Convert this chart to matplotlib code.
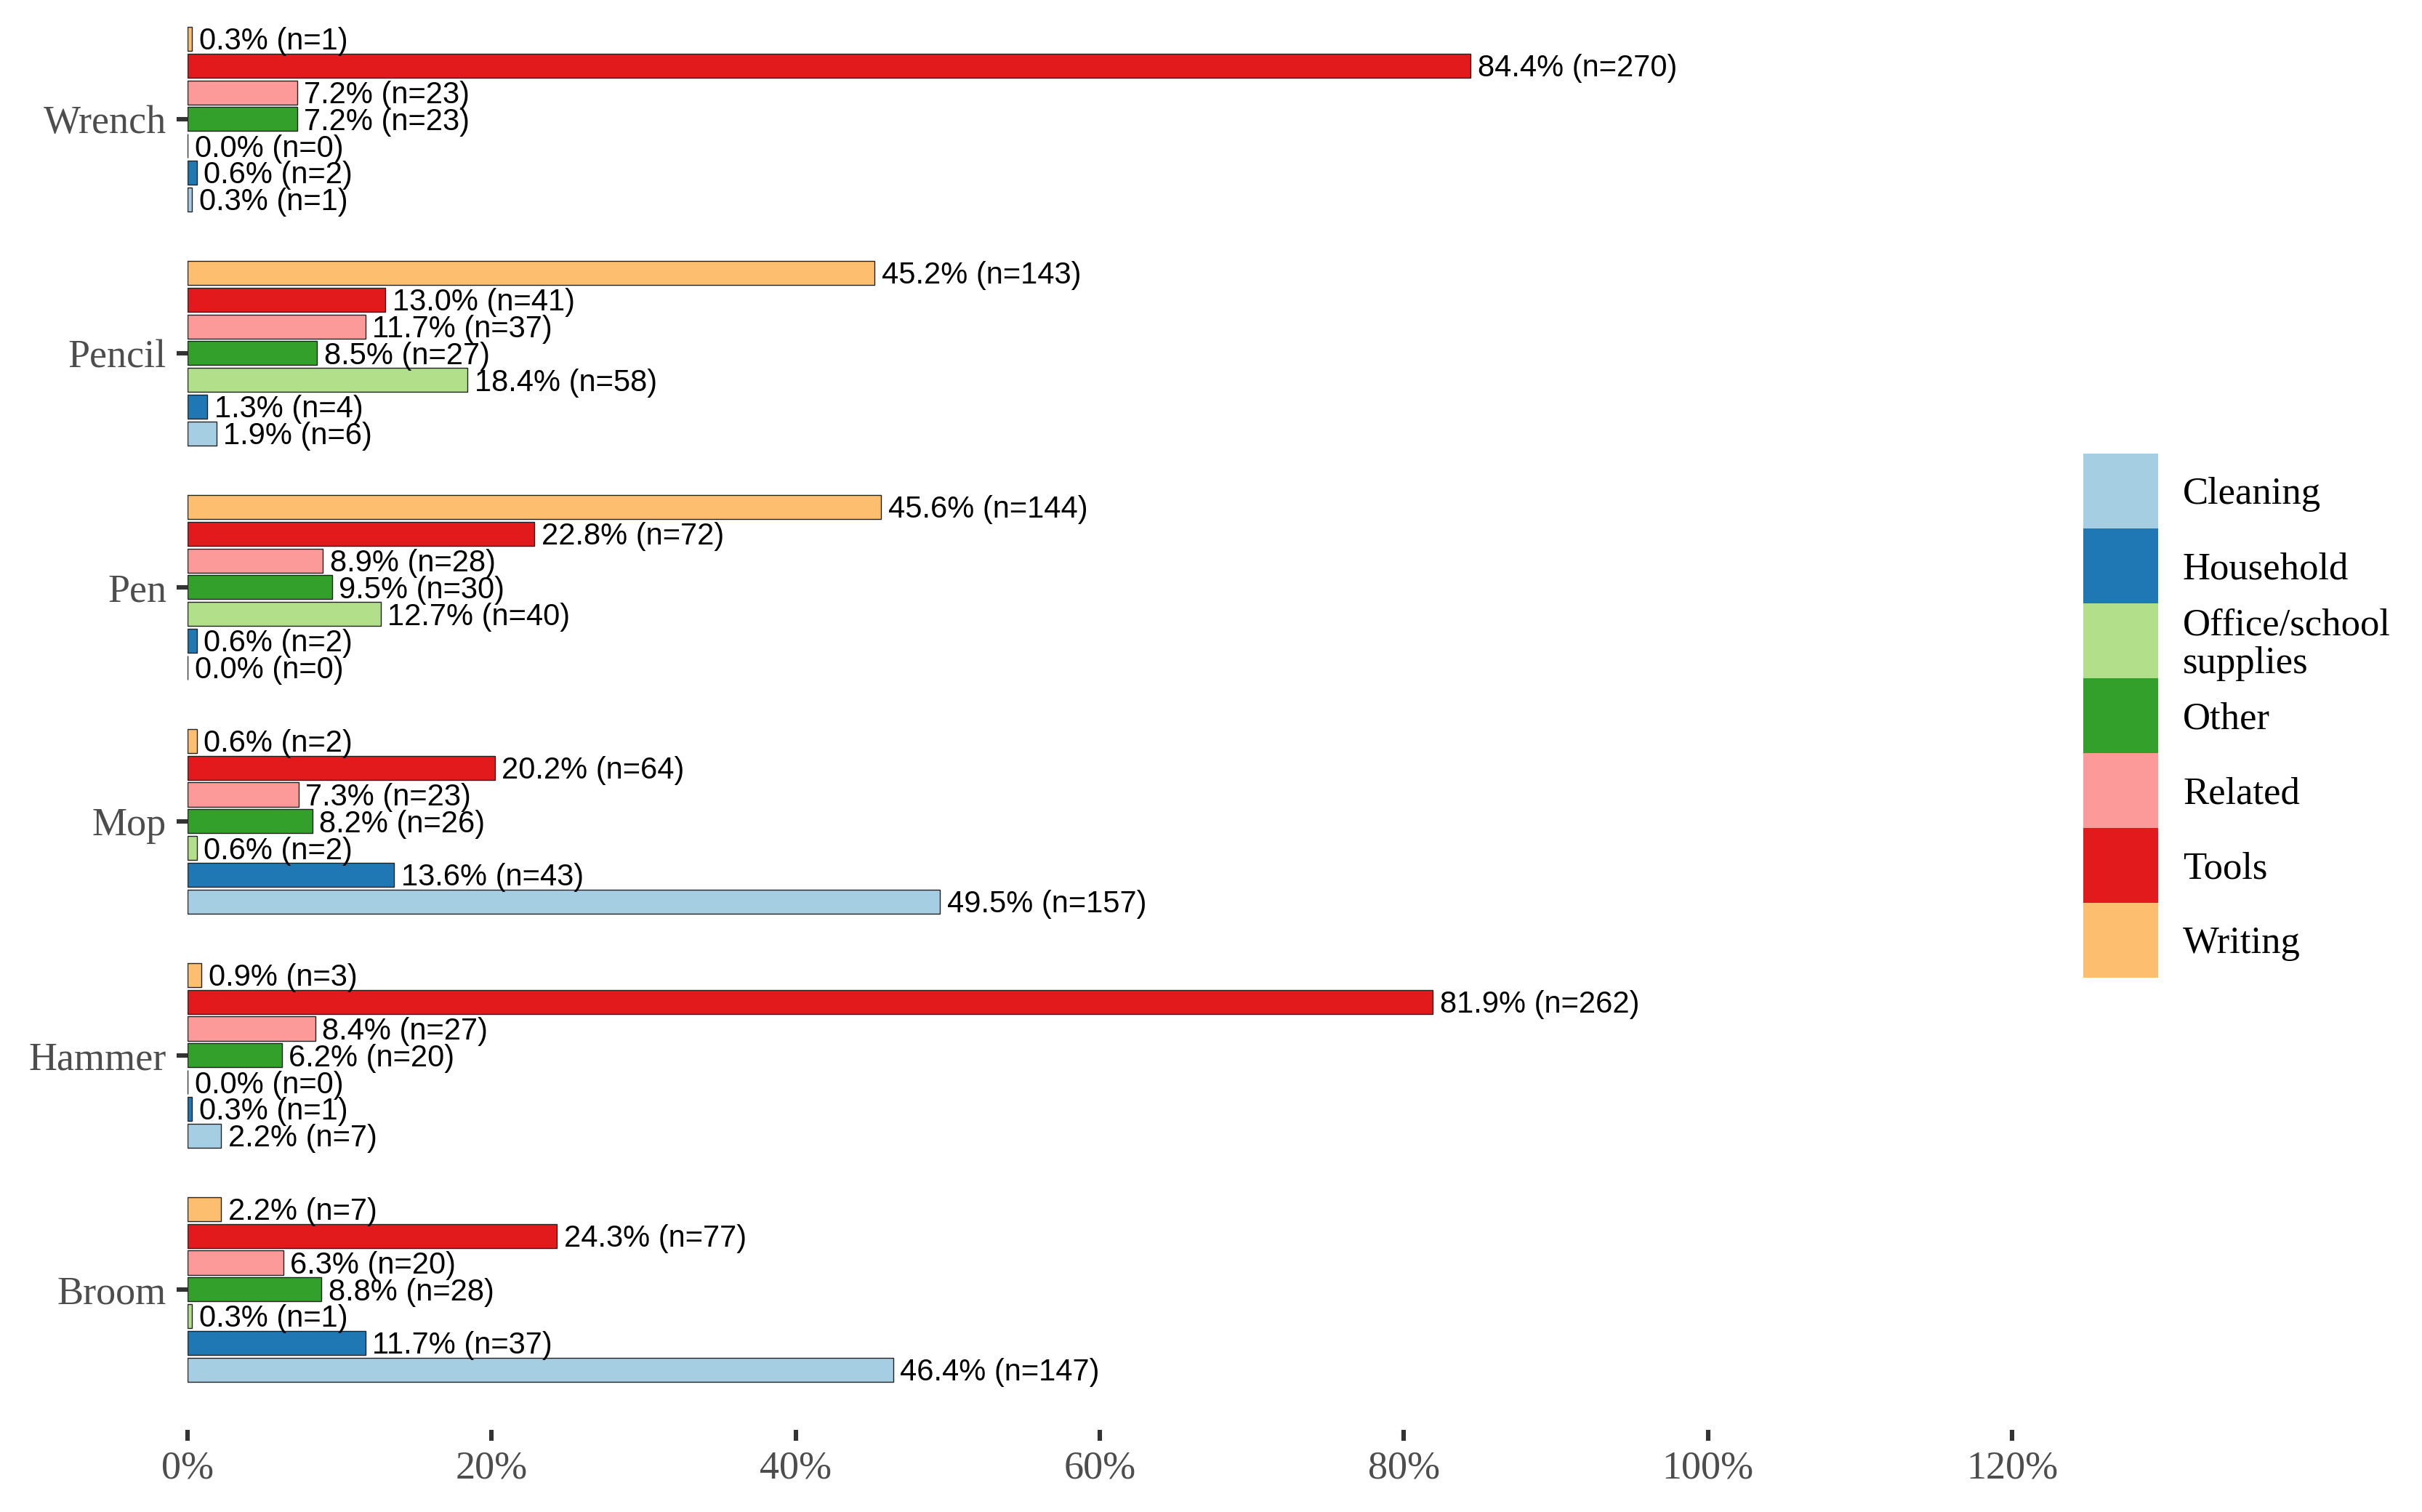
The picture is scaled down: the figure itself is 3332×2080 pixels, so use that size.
import matplotlib
matplotlib.use("Agg")
import numpy as np
import matplotlib.pyplot as plt
from matplotlib.patches import Rectangle

# Tools, bottom to top
tools = ["Broom", "Hammer", "Mop", "Pen", "Pencil", "Wrench"]

# Categories, drawn bottom to top inside each group
categories = ["Cleaning", "Household", "Office/school\nsupplies", "Other",
              "Related", "Tools", "Writing"]
colors = ["#A6CEE3", "#1F78B4", "#B2DF8A", "#33A02C", "#FB9A99", "#E31A1C", "#FDBF6F"]

# percentages per category (rows follow `tools` order)
cleaning_pct = [46.4, 2.2, 49.5, 0.0, 1.9, 0.3]
household_pct = [11.7, 0.3, 13.6, 0.6, 1.3, 0.6]
office_pct = [0.3, 0.0, 0.6, 12.7, 18.4, 0.0]
other_pct = [8.8, 6.2, 8.2, 9.5, 8.5, 7.2]
related_pct = [6.3, 8.4, 7.3, 8.9, 11.7, 7.2]
tools_pct = [24.3, 81.9, 20.2, 22.8, 13.0, 84.4]
writing_pct = [2.2, 0.9, 0.6, 45.6, 45.2, 0.3]

# counts per category
cleaning_n = [147, 7, 157, 0, 6, 1]
household_n = [37, 1, 43, 2, 4, 2]
office_n = [1, 0, 2, 40, 58, 0]
other_n = [28, 20, 26, 30, 27, 23]
related_n = [20, 27, 23, 28, 37, 23]
tools_n = [77, 262, 64, 72, 41, 270]
writing_n = [7, 3, 2, 144, 143, 1]

pct = [cleaning_pct, household_pct, office_pct, other_pct, related_pct, tools_pct, writing_pct]
counts = [cleaning_n, household_n, office_n, other_n, related_n, tools_n, writing_n]

W, H = 3332, 2080
fig = plt.figure(figsize=(W / 200, H / 200), dpi=200)
ax = fig.add_axes([258 / W, 1 - 1967 / H, (2768 - 258) / W, 1967 / H])

y = np.arange(len(tools))
pitch = 0.8 / len(categories)
for j, cat in enumerate(categories):
    vals = np.array(pct[j]) / 100
    ypos = y + (j - 3) * pitch
    ax.barh(ypos, vals, height=pitch * 0.9,
            color=colors[j], edgecolor="#222222", linewidth=0.5)
    for v, yy, p, n in zip(vals, ypos, pct[j], counts[j]):
        ax.annotate(f"{p:.1f}% (n={n})", (v, yy), xytext=(3.5, -1.4),
                    textcoords="offset points", ha="left", va="center",
                    fontsize=15, family="Liberation Sans", color="black")

ax.set_xlim(0, 1.2)
ax.set_ylim(-0.6, 5.509)
xt = np.arange(0, 1.21, 0.2)
ax.set_xticks(xt)
ax.set_xticklabels([f"{int(round(v * 100))}%" for v in xt])
ax.set_yticks(y)
ax.set_yticklabels(tools)
for s in ax.spines.values():
    s.set_visible(False)
ax.tick_params(axis="both", length=5.4, width=2.2, color="#333333",
               labelcolor="#4D4D4D", labelsize=19.5)
ax.tick_params(axis="x", pad=4.5)
ax.tick_params(axis="y", pad=5)
for lab in ax.get_xticklabels() + ax.get_yticklabels():
    lab.set_family("Liberation Serif")

# legend, stacked square keys
key = 103
x0, y0 = 2866, 624
for j, cat in enumerate(categories):
    top = y0 + j * key
    fig.add_artist(Rectangle((x0 / W, 1 - (top + key) / H), key / W, key / H,
                             transform=fig.transFigure, facecolor=colors[j],
                             edgecolor="none"))
    fig.text(3003 / W, 1 - (top + key / 2 + 5) / H, cat, ha="left", va="center",
             fontsize=19, family="Liberation Serif", color="black", linespacing=1.12)

fig.savefig("out.png", dpi=200)
